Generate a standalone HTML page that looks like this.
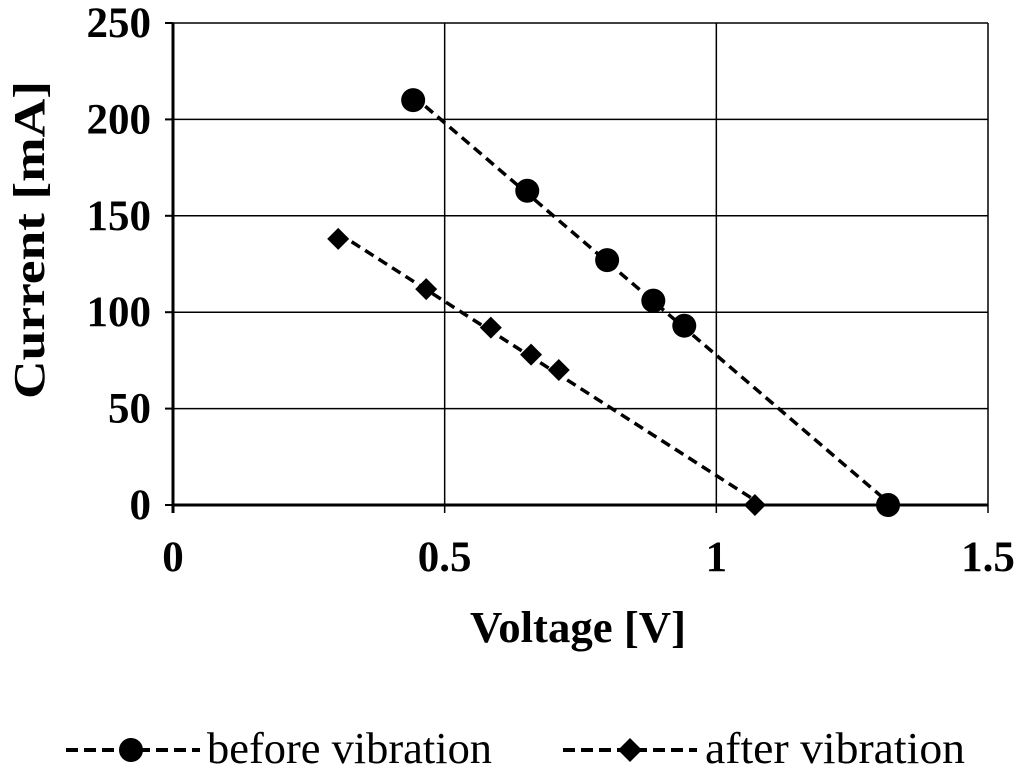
<!DOCTYPE html>
<html><head><meta charset="utf-8"><style>
html,body{margin:0;padding:0;background:#fff;}
svg{display:block;font-family:"Liberation Serif",serif;}
</style></head><body>
<svg id="chart" width="1024" height="778" viewBox="0 0 1024 778">
<g id="grid"></g>
<g id="axes"></g>
<g id="series"></g>
<text x="578" y="642" text-anchor="middle" font-size="44" font-weight="bold" textLength="216" lengthAdjust="spacingAndGlyphs">Voltage [V]</text>
<text transform="translate(44,240) rotate(-90)" text-anchor="middle" font-size="44" font-weight="bold" textLength="318" lengthAdjust="spacingAndGlyphs">Current [mA]</text>
<g>
 <g>
  <line x1="66" y1="750" x2="200" y2="750" stroke="#000" stroke-width="4" stroke-dasharray="12,6"/>
  <circle cx="131" cy="750" r="12" fill="#000"/>
  <text x="207" y="763" font-size="44" textLength="285" lengthAdjust="spacingAndGlyphs">before vibration</text>
 </g>
 <g>
  <line x1="563" y1="750" x2="697" y2="750" stroke="#000" stroke-width="4" stroke-dasharray="12,6"/>
  <path d="M630 738 L642 750 L630 762 L618 750 Z" fill="#000"/>
  <text x="705" y="763" font-size="44" textLength="260" lengthAdjust="spacingAndGlyphs">after vibration</text>
 </g>
</g>
</svg>
<script>
const xTicks=[0,0.5,1,1.5];
const xTickLabels=["0","0.5","1","1.5"];
const yTicks=[0,50,100,150,200,250];
const yTickLabels=["0","50","100","150","200","250"];
const beforeV=[0.442,0.652,0.799,0.884,0.941,1.316];
const beforeI=[210,163,127,106,93,0];
const afterV=[0.304,0.466,0.585,0.659,0.710,1.071];
const afterI=[138,112,92,78,70,0];

const X0=173,X1=988,Y0=505,Y1=23;
const xs=v=>X0+(v-0)/(1.5-0)*(X1-X0);
const ys=v=>Y0-(v-0)/(250-0)*(Y0-Y1);
const NS="http://www.w3.org/2000/svg";
function mk(t,a,p){const e=document.createElementNS(NS,t);for(const k in a)e.setAttribute(k,a[k]);p.appendChild(e);return e;}
const grid=document.getElementById('grid'),axes=document.getElementById('axes'),series=document.getElementById('series');
yTicks.forEach((t,i)=>{
 const l=mk('line',{x1:X0,x2:X1,y1:ys(t),y2:ys(t),stroke:'#000','stroke-width':t===0?3:1.5},grid);
 
 
 const tk=mk('line',{x1:X0-8,x2:X0,y1:ys(t),y2:ys(t),stroke:'#000','stroke-width':2},axes);
 
 
 const tx=mk('text',{x:X0-22,y:ys(t)+14,'text-anchor':'end','font-size':43,'font-weight':'bold'},axes);
 tx.textContent=yTickLabels[i];
 
 
});
xTicks.forEach((t,i)=>{
 const l=mk('line',{x1:xs(t),x2:xs(t),y1:Y1,y2:Y0+8,stroke:'#000','stroke-width':t===0?3:1.5},grid);
 
 
 const tx=mk('text',{x:xs(t),y:Y0+66,'text-anchor':'middle','font-size':43,'font-weight':'bold'},axes);
 tx.textContent=xTickLabels[i];
 
 
});
function fit(vx,vy){const n=vx.length;let sx=0,sy=0,sxx=0,sxy=0;for(let i=0;i<n;i++){sx+=vx[i];sy+=vy[i];sxx+=vx[i]*vx[i];sxy+=vx[i]*vy[i];}const m=(n*sxy-sx*sy)/(n*sxx-sx*sx);return [m,(sy-m*sx)/n];}
function draw(vx,vy,shape,name){
 const [m,b]=fit(vx,vy);const a=Math.min(...vx),c=Math.max(...vx);
 const l=mk('line',{x1:xs(a),y1:ys(m*a+b),x2:xs(c),y2:ys(m*c+b),stroke:'#000','stroke-width':3.5,'stroke-dasharray':'10,6'},series);
 
 
 vx.forEach((v,i)=>{
  const cx=xs(v),cy=ys(vy[i]);let e;
  if(shape==='circle')e=mk('circle',{cx:cx,cy:cy,r:12,fill:'#000'},series);
  else e=mk('path',{d:`M${cx} ${cy-11}L${cx+11} ${cy}L${cx} ${cy+11}L${cx-11} ${cy}Z`,fill:'#000'},series);
  
  
 });
}
draw(beforeV,beforeI,'circle','before');
draw(afterV,afterI,'diamond','after');
</script>
</body></html>
